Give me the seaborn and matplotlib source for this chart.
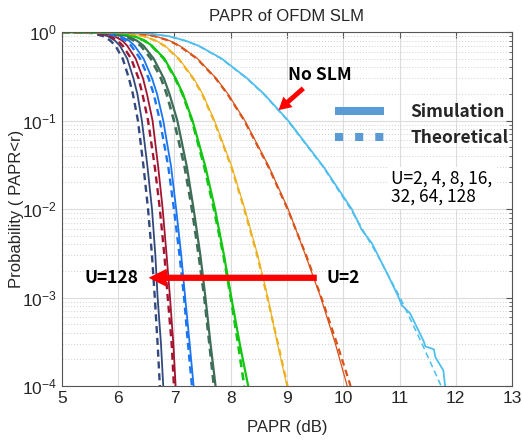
import matplotlib
matplotlib.use("Agg")
import matplotlib.pyplot as plt
import matplotlib.ticker as mticker
from matplotlib.lines import Line2D
from matplotlib.font_manager import FontProperties
import seaborn as sns

# =============================================================================
# DONNÉES
# =============================================================================

# niveaux de probabilité où les courbes ont été relevées
P_LEVELS = [1.0, 0.99, 0.97, 0.9, 0.8, 0.7, 0.5, 0.3, 0.2, 0.1,
            0.03, 0.01, 3e-3, 1e-3, 3e-4, 1e-4]

# PAPR (dB) théorique (pointillés)
THEO_U1   = [5.0, 6.21, 6.48, 6.88, 7.18, 7.42, 7.83, 8.28, 8.58, 9.01, 9.64, 10.13, 10.61, 11.01, 11.40, 11.74]
THEO_U2   = [5.0, 6.06, 6.31, 6.64, 6.90, 7.08, 7.40, 7.73, 7.94, 8.24, 8.67, 9.01, 9.34, 9.61, 9.89, 10.13]
THEO_U4   = [5.0, 5.93, 6.15, 6.44, 6.66, 6.82, 7.07, 7.33, 7.49, 7.70, 8.01, 8.24, 8.47, 8.65, 8.84, 9.01]
THEO_U8   = [5.0, 5.80, 6.01, 6.27, 6.46, 6.59, 6.81, 7.01, 7.14, 7.31, 7.53, 7.70, 7.87, 8.00, 8.13, 8.24]
THEO_U16  = [5.0, 5.69, 5.88, 6.12, 6.28, 6.40, 6.58, 6.76, 6.86, 6.99, 7.18, 7.31, 7.43, 7.53, 7.62, 7.70]
THEO_U32  = [5.0, 5.58, 5.76, 5.98, 6.13, 6.23, 6.39, 6.54, 6.63, 6.74, 6.89, 6.99, 7.09, 7.17, 7.24, 7.31]
THEO_U64  = [5.0, 5.48, 5.65, 5.85, 5.99, 6.08, 6.23, 6.36, 6.43, 6.53, 6.65, 6.74, 6.82, 6.88, 6.95, 6.99]
THEO_U128 = [5.0, 5.39, 5.54, 5.73, 5.86, 5.95, 6.08, 6.19, 6.26, 6.35, 6.45, 6.53, 6.60, 6.65, 6.70, 6.74]

# PAPR (dB) simulé (traits pleins)
SIM_U2   = [5.0, 6.07, 6.32, 6.65, 6.91, 7.09, 7.41, 7.74, 7.95, 8.25, 8.68, 9.02, 9.33, 9.60, 9.86, 10.07]
SIM_U4   = [5.0, 5.94, 6.16, 6.45, 6.67, 6.83, 7.08, 7.34, 7.50, 7.71, 8.02, 8.25, 8.48, 8.66, 8.83, 9.00]
SIM_U8   = [5.0, 5.81, 6.02, 6.28, 6.47, 6.60, 6.82, 7.02, 7.15, 7.32, 7.55, 7.72, 7.88, 8.01, 8.16, 8.31]
SIM_U16  = [5.0, 5.74, 5.93, 6.17, 6.33, 6.45, 6.63, 6.81, 6.91, 7.05, 7.22, 7.34, 7.46, 7.55, 7.64, 7.73]
SIM_U32  = [5.0, 5.64, 5.82, 6.04, 6.19, 6.29, 6.45, 6.60, 6.69, 6.80, 6.94, 7.03, 7.12, 7.19, 7.27, 7.34]
SIM_U64  = [5.0, 5.56, 5.73, 5.93, 6.07, 6.16, 6.31, 6.44, 6.51, 6.61, 6.71, 6.79, 6.86, 6.92, 6.98, 7.02]
SIM_U128 = [5.0, 5.47, 5.62, 5.81, 5.94, 6.03, 6.16, 6.27, 6.34, 6.42, 6.52, 6.60, 6.66, 6.70, 6.76, 6.80]

# sans SLM, simulation (plus de points en bas, la courbe est bruitée)
NOSLM_SIM_P = [1.0, 0.99, 0.97, 0.9, 0.8, 0.7, 0.5, 0.3, 0.2, 0.1, 0.03, 0.01,
               5.8e-3, 4.1e-3, 2.65e-3, 1.87e-3, 1.02e-3, 8.2e-4, 6.6e-4,
               3.2e-4, 2.8e-4, 2.6e-4, 2.1e-4, 1.5e-4, 1e-4]
NOSLM_SIM_X = [5.0, 6.22, 6.49, 6.89, 7.19, 7.43, 7.84, 8.29, 8.59, 9.02, 9.65, 10.15,
               10.33, 10.51, 10.66, 10.78, 10.98, 11.04, 11.19,
               11.43, 11.46, 11.61, 11.64, 11.78, 11.81]

# (théorique, simulé, couleur, largeur plein, largeur pointillé)
COURBES = [
    (THEO_U128, SIM_U128, "#33497d", 1.3, 1.7),
    (THEO_U64,  SIM_U64,  "#a2142f", 1.3, 1.7),
    (THEO_U32,  SIM_U32,  "#1a75f0", 1.3, 1.7),
    (THEO_U16,  SIM_U16,  "#3e6e58", 1.6, 1.9),
    (THEO_U8,   SIM_U8,   "#12c612", 1.6, 1.9),
    (THEO_U4,   SIM_U4,   "#edb120", 0.9, 1.6),
    (THEO_U2,   SIM_U2,   "#d95319", 0.9, 1.6),
]
COULEUR_NOSLM = "#4dbeee"

# =============================================================================
# STYLE
# =============================================================================

sns.set_theme(style="white")
plt.rcParams["font.family"] = ["Liberation Sans", "DejaVu Sans"]
plt.rcParams["mathtext.default"] = "regular"
POLICE_TXT = ["Noto Sans CJK KR", "DejaVu Sans"]
GRIS = "#262626"

fig = plt.figure(figsize=(5.23, 4.41), dpi=100)
ax = fig.add_axes([0.1185, 0.1247, 0.8605, 0.8027])

# =============================================================================
# COURBES
# =============================================================================

for theo, sim, couleur, lw_s, lw_t in COURBES:
    sns.lineplot(x=sim, y=P_LEVELS, ax=ax, color=couleur, lw=lw_s,
                 estimator=None, sort=False)
    sns.lineplot(x=theo, y=P_LEVELS, ax=ax, color=couleur, lw=lw_t,
                 linestyle=(0, (3, 2)), estimator=None, sort=False)

sns.lineplot(x=THEO_U1, y=P_LEVELS, ax=ax, color=COULEUR_NOSLM, lw=1.1,
             linestyle=(0, (4, 2.5)), estimator=None, sort=False)
sns.lineplot(x=NOSLM_SIM_X, y=NOSLM_SIM_P, ax=ax, color=COULEUR_NOSLM, lw=1.3,
             estimator=None, sort=False)

# =============================================================================
# AXES
# =============================================================================

ax.set_yscale("log")
ax.set_xlim(5, 13)
ax.set_ylim(1e-4, 1)
ax.xaxis.set_major_locator(mticker.MultipleLocator(1))
ax.yaxis.set_major_locator(mticker.LogLocator(base=10, numticks=10))
ax.yaxis.set_minor_locator(mticker.LogLocator(base=10, subs=range(2, 10), numticks=20))
ax.yaxis.set_minor_formatter(mticker.NullFormatter())

ax.set_axisbelow(True)
ax.grid(True, which="major", color="#dcdcdc", lw=0.8)
ax.grid(True, which="minor", axis="y", color="#d0d0d0", lw=0.7, linestyle=(0, (1, 2)))

ax.tick_params(which="both", direction="in", top=True, right=True,
               colors="#555555", labelcolor=GRIS, labelsize=12.5)
ax.tick_params(which="major", length=4, width=0.8)
ax.tick_params(which="minor", length=2, width=0.6)
for s in ax.spines.values():
    s.set_color("#555555")
    s.set_linewidth(0.8)

ax.set_title("PAPR of OFDM SLM", fontsize=12, color=GRIS, pad=8)
ax.set_xlabel("PAPR (dB)", fontsize=12, color=GRIS, labelpad=10)
ax.set_ylabel("Probability ( PAPR<r)", fontsize=12, color=GRIS)
ax.yaxis.set_label_coords(-0.085, 0.5)

# =============================================================================
# ANNOTATIONS
# =============================================================================

ax.text(9.59, 0.33, "No SLM", fontsize=12.5, fontweight="bold", family=POLICE_TXT,
        ha="center", va="center", color="black")
ax.annotate("", xy=(8.85, 0.131), xytext=(9.29, 0.231),
            arrowprops=dict(facecolor="red", edgecolor="none", width=3.5,
                            headwidth=10, headlength=9, shrink=0))

ax.annotate("", xy=(6.54, 1.67e-3), xytext=(9.53, 1.67e-3),
            arrowprops=dict(facecolor="red", edgecolor="none", width=4.5,
                            headwidth=13, headlength=13, shrink=0))
ax.text(5.88, 1.67e-3, "U=128", fontsize=12.5, fontweight="bold", family=POLICE_TXT,
        ha="center", va="center", color="black")
ax.text(9.99, 1.67e-3, "U=2", fontsize=12.5, fontweight="bold", family=POLICE_TXT,
        ha="center", va="center", color="black")

ax.text(10.84, 0.0276, "U=2, 4, 8, 16,\n32, 64, 128", fontsize=12.5, family=POLICE_TXT,
        ha="left", va="top", color="black", linespacing=1.0,
        bbox=dict(facecolor="white", edgecolor="none", pad=2))

poignees = [
    Line2D([], [], color="#5b9bd5", lw=5.8, solid_capstyle="butt"),
    Line2D([], [], color="#5b9bd5", lw=5.8, linestyle=(0, (1, 1.5)), dash_capstyle="butt"),
]
ax.legend(poignees, ["Simulation", "Theoretical"], loc="upper left",
          bbox_to_anchor=(0.607, 0.80), frameon=False, handlelength=2.8,
          handletextpad=1.55, labelspacing=0.5, borderaxespad=0, borderpad=0,
          prop=FontProperties(family=POLICE_TXT, weight="bold", size=12.5))

fig.savefig("out.png", dpi=100)
